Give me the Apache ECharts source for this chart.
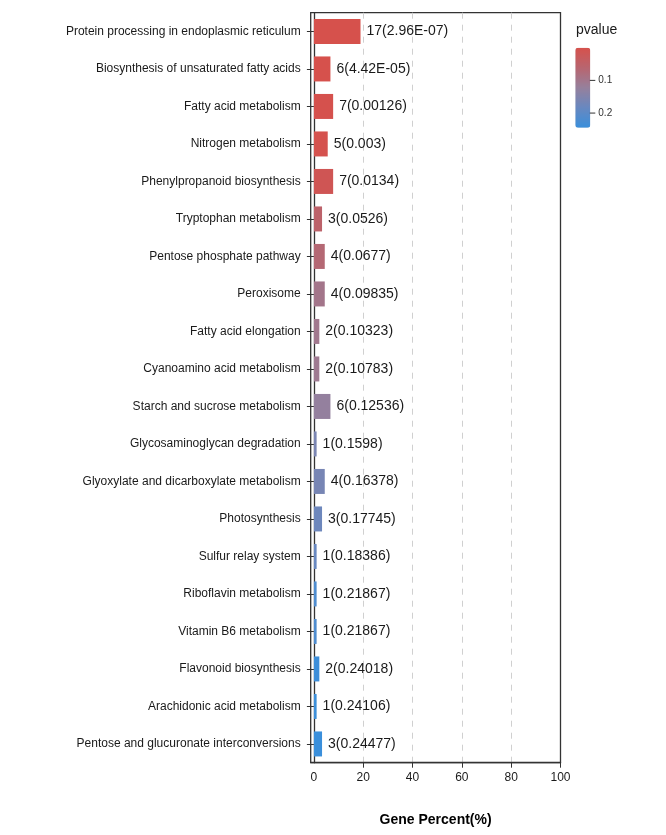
<!DOCTYPE html>
<html>
<head>
<meta charset="utf-8">
<script src="https://cdn.jsdelivr.net/npm/echarts@6/dist/echarts.min.js"></script>
<style>
html,body{margin:0;padding:0;background:#fff;}
#main{width:666px;height:835px;}
</style>
</head>
<body>
<div id="main"></div>
<script>
const categories = [
  "Protein processing in endoplasmic reticulum",
  "Biosynthesis of unsaturated fatty acids",
  "Fatty acid metabolism",
  "Nitrogen metabolism",
  "Phenylpropanoid biosynthesis",
  "Tryptophan metabolism",
  "Pentose phosphate pathway",
  "Peroxisome",
  "Fatty acid elongation",
  "Cyanoamino acid metabolism",
  "Starch and sucrose metabolism",
  "Glycosaminoglycan degradation",
  "Glyoxylate and dicarboxylate metabolism",
  "Photosynthesis",
  "Sulfur relay system",
  "Riboflavin metabolism",
  "Vitamin B6 metabolism",
  "Flavonoid biosynthesis",
  "Arachidonic acid metabolism",
  "Pentose and glucuronate interconversions"
];
const geneCounts = [17, 6, 7, 5, 7, 3, 4, 4, 2, 2, 6, 1, 4, 3, 1, 1, 1, 2, 1, 3];
const genePercent = [18.9, 6.7, 7.8, 5.6, 7.8, 3.3, 4.4, 4.4, 2.2, 2.2, 6.7, 1.1, 4.4, 3.3, 1.1, 1.1, 1.1, 2.2, 1.1, 3.3];
const pvalueText = ["2.96E-07", "4.42E-05", "0.00126", "0.003", "0.0134", "0.0526", "0.0677", "0.09835", "0.10323", "0.10783", "0.12536", "0.1598", "0.16378", "0.17745", "0.18386", "0.21867", "0.21867", "0.24018", "0.24106", "0.24477"];
const xTickLabels = [0, 20, 40, 60, 80, 100];
const xGridLines = [20, 40, 60, 80];
const colorbarTicks = [0.1, 0.2];
const colorStops = ['#D6514C', '#B8656F', '#96809C', '#6888C0', '#3A8FDB'];

const pvalues = pvalueText.map(Number);
const pMin = 0;
const pMax = Math.max.apply(null, pvalues);

const FONT = "'Liberation Sans', Arial, sans-serif";
const chart = echarts.init(document.getElementById('main'), null, {renderer: 'canvas'});

const barData = categories.map((c, i) => [genePercent[i], c, pvalues[i], geneCounts[i], pvalueText[i]]);

const option = {
  backgroundColor: '#ffffff',
  animation: false,
  textStyle: {fontFamily: FONT},
  title: {
    text: 'pvalue', left: 571, top: 18,
    textStyle: {fontSize: 14, fontWeight: 'normal', color: '#1a1a1a', fontFamily: FONT}
  },
  grid: [
    {left: 310.7, top: 12.7, width: 249.8, height: 750, show: true, borderColor: '#333', borderWidth: 1.3, containLabel: false},
    {left: 575.3, top: 47.7, width: 15, height: 80, show: false}
  ],
  visualMap: {
    type: 'continuous',
    seriesIndex: 0,
    dimension: 2,
    min: pMin, max: pMax,
    inverse: true,
    calculable: false,
    hoverLink: false,
    realtime: false,
    left: 575.3, top: 47.7,
    padding: 0,
    itemWidth: 15, itemHeight: 80,
    text: null,
    showLabel: false,
    z: 1,
    inRange: {color: colorStops}
  },
  xAxis: [
    {
      type: 'value', gridIndex: 0, min: -1.3, max: 100,
      name: 'Gene Percent(%)', nameLocation: 'middle', nameGap: 50,
      nameTextStyle: {fontSize: 14, fontWeight: 'bold', color: '#000', fontFamily: FONT},
      axisLine: {show: true, lineStyle: {color: '#333', width: 1.3}},
      axisTick: {show: true, length: 5, lineStyle: {color: '#333'}, customValues: xTickLabels.filter(v => v > 0)},
      axisLabel: {fontSize: 12, color: '#1a1a1a', margin: 9, customValues: xTickLabels, fontFamily: FONT},
      splitLine: {show: false}
    },
    {
      type: 'value', gridIndex: 1, min: 0, max: 1, show: false
    }
  ],
  yAxis: [
    {
      type: 'category', gridIndex: 0, data: categories, inverse: true,
      axisLine: {show: true, lineStyle: {color: '#333', width: 1.3}},
      axisTick: {show: true, length: 7, alignWithLabel: true, lineStyle: {color: '#333'}},
      axisLabel: {fontSize: 12, color: '#1a1a1a', margin: 10, fontFamily: FONT},
      splitLine: {show: false}
    },
    {
      type: 'value', gridIndex: 1, min: pMin, max: pMax, inverse: true, show: false
    }
  ],
  series: [
    {
      type: 'bar',
      xAxisIndex: 0, yAxisIndex: 0,
      data: barData,
      encode: {x: 0, y: 1},
      barWidth: 25,
      label: {
        show: true, position: 'right', distance: 6,
        fontSize: 14, color: '#1a1a1a', fontFamily: FONT,
        formatter: p => p.value[3] + '(' + p.value[4] + ')'
      },
      markLine: {
        silent: true, symbol: ['none', 'none'], label: {show: false},
        lineStyle: {color: '#d0d0d0', type: [6, 6], width: 1},
        data: xGridLines.map(v => ({xAxis: v})),
        z: 0
      },
      z: 2
    },
    {
      type: 'custom',
      xAxisIndex: 1, yAxisIndex: 1,
      data: colorbarTicks.map(v => [1, v]),
      silent: true,
      z: 10,
      renderItem: function (params, api) {
        const pt = api.coord([1, api.value(1)]);
        return {
          type: 'group',
          children: [
            {type: 'line', shape: {x1: pt[0] - 0.5, y1: pt[1], x2: pt[0] + 5, y2: pt[1]}, style: {stroke: '#333', lineWidth: 1}},
            {type: 'text', x: pt[0] + 8, y: pt[1], style: {text: String(api.value(1)), fill: '#333', font: '10px ' + FONT, verticalAlign: 'middle', align: 'left'}}
          ]
        };
      }
    }
  ]
};
chart.setOption(option);
</script>
</body>
</html>
